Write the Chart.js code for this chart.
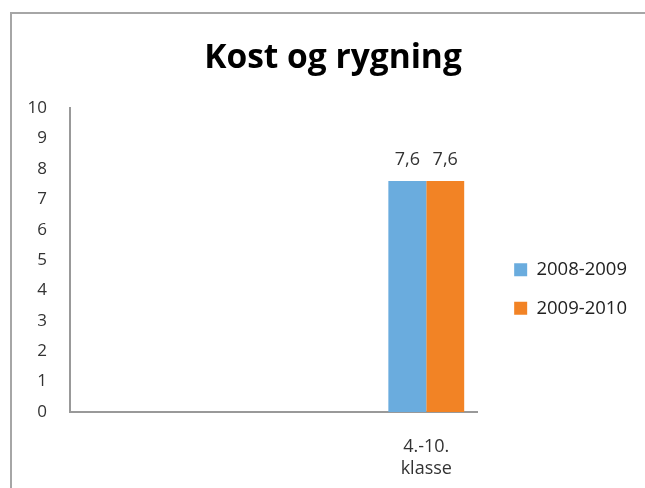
<!DOCTYPE html>
<html>
<head>
<meta charset="utf-8">
<script src="https://cdn.jsdelivr.net/npm/chart.js@4"></script>
<style>
    body { margin: 0; background: #fff; }
    #wrap { position: relative; width: 645px; height: 488px; overflow: hidden; }
    #frame {
        position: absolute; left: 10px; top: 12px;
        width: 660px; height: 500px;
        border: 2px solid #a6a6a6;
    }
    canvas { position: absolute; left: 0; top: 0; }
</style>
</head>
<body>
<div id="wrap">
    <div id="frame"></div>
    <canvas id="chart" width="645" height="488"></canvas>
</div>
<script>
// data
const categories = ["", "", "", ["4.-10.", "klasse"]];
const seriesNames = ["2008-2009", "2009-2010"];
const values2008 = [null, null, null, 7.6];
const values2009 = [null, null, null, 7.6];
const yTicks = [0, 1, 2, 3, 4, 5, 6, 7, 8, 9, 10];

const FONT = "'Open Sans', 'Liberation Sans', sans-serif";

// small value labels above the bars
const valueLabels = {
    id: "valueLabels",
    afterDatasetsDraw(chart) {
        const ctx = chart.ctx;
        ctx.save();
        ctx.font = "18px " + FONT;
        ctx.fillStyle = "#333";
        ctx.textAlign = "center";
        ctx.textBaseline = "bottom";
        chart.data.datasets.forEach((ds, i) => {
            chart.getDatasetMeta(i).data.forEach((bar, j) => {
                const v = ds.data[j];
                if (v == null) return;
                ctx.fillText(String(v).replace(".", ","), bar.x, bar.y - 12);
            });
        });
        ctx.restore();
    }
};

new Chart(document.getElementById("chart"), {
    type: "bar",
    data: {
        labels: categories,
        datasets: [
            { label: seriesNames[0], data: values2008, backgroundColor: "#6aacde" },
            { label: seriesNames[1], data: values2009, backgroundColor: "#f28325" }
        ]
    },
    options: {
        responsive: false,
        animation: false,
        layout: { padding: { left: 29, right: 8, top: 38, bottom: 0 } },
        datasets: { bar: { categoryPercentage: 0.745, barPercentage: 1 } },
        plugins: {
            title: {
                display: true,
                text: "Kost og rygning",
                color: "#000",
                font: { family: FONT, size: 33.5, weight: "bold" },
                padding: { top: 0, bottom: 30 }
            },
            legend: {
                position: "right",
                maxWidth: 200,
                title: { display: true, text: "", font: { size: 10 }, padding: { top: 0, bottom: 40 } },
                labels: {
                    boxWidth: 13,
                    boxHeight: 13,
                    padding: 20,
                    color: "#222",
                    font: { family: FONT, size: 18.5 }
                }
            },
            tooltip: { enabled: false }
        },
        scales: {
            x: {
                grid: { display: false, drawTicks: false },
                border: { color: "#999", width: 2 },
                afterFit(scale) { scale.height = 76; },
                ticks: {
                    color: "#333",
                    padding: 24,
                    maxRotation: 0,
                    font: { family: FONT, size: 18, lineHeight: 1.2 }
                }
            },
            y: {
                min: 0,
                max: 10,
                afterBuildTicks(axis) { axis.ticks = yTicks.map(v => ({ value: v })); },
                afterFit(scale) { scale.width = 41; },
                grid: { display: false, drawTicks: false },
                border: { color: "#999", width: 2 },
                ticks: {
                    color: "#333",
                    padding: 23,
                    font: { family: FONT, size: 17 }
                }
            },
            // empty spacer between plot and legend
            gap: {
                type: "linear",
                position: "right",
                grid: { display: false, drawTicks: false },
                border: { display: false },
                ticks: { display: false },
                afterFit(scale) { scale.width = 17; }
            }
        }
    },
    plugins: [valueLabels]
});
</script>
</body>
</html>
